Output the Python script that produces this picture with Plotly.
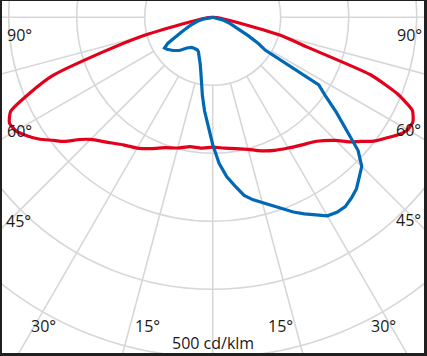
import numpy as np
import plotly.graph_objects as go

# ---- data (cd/klm vs. gamma angle in degrees, 0 = nadir, + = right) ----
red_angle = [-90, -85, -80, -77.5, -75, -72.5, -70, -67.5, -65, -62.5, -60, -57.5, -55,
             -52.5, -50, -47.5, -45, -40, -35, -30, -25, -20, -15, -10, -5, 0,
             5, 10, 15, 20, 25, 30, 35, 40, 45, 47.5, 50, 52.5, 55, 57.5, 60, 62.5,
             65, 67.5, 70, 72.5, 75, 77.5, 80, 85, 90]
red_intensity = [0, 6, 21, 47, 110, 169, 250, 291, 328, 337, 334, 324, 312,
                 297, 284, 266, 254, 240, 229, 222, 213, 204, 199, 193, 193, 191,
                 193, 196, 201, 209, 216, 222, 229, 238, 256, 271, 284, 299, 310, 322, 331, 332,
                 324, 294, 247, 146, 107, 44, 21, 6, 0]

blue_angle = [-90, -85, -80, -75, -70, -65, -62.5, -60, -57.5, -55, -50, -45, -40, -35,
              -30, -25, -22.5, -20, -17.5, -15, -12.5, -10, -7.5, -5, -2.5, 0,
              2.5, 5, 7.5, 10, 12.5, 15, 17.5, 20, 22.5, 25, 27.5, 30, 32.5, 35, 37.5,
              40, 42.5, 45, 47.5, 50, 52.5, 55, 57.5, 58, 60, 62.5, 65, 70, 75, 80, 85, 90]
blue_intensity = [0, 6, 13, 24, 35, 50, 63, 76, 84, 82, 76, 69, 59, 54,
                  53, 53, 55, 59, 63, 71, 81, 97, 116, 138, 159, 187,
                  215, 235, 250, 266, 275, 282, 291, 300, 310, 319, 328, 337, 340, 340, 335,
                  329, 319, 310, 290, 256, 229, 203, 185, 91, 78, 60, 44, 28, 16, 7, 3, 0]

ring_values = [100, 200, 300, 400, 500, 600]
spoke_angles = [-90, -75, -60, -45, -30, -15, 0, 15, 30, 45, 60, 75, 90]
label_texts = ["90°", "60°", "45°", "30°", "15°", "500 cd/klm", "15°", "30°", "45°", "60°", "90°"]

# ---- layout geometry ----
W, H = 427, 356
ML, MR, MT, MB = 2, 3, 1, 3
CX, CY = 212.7, 17.3          # pole position in pixels
S = 0.68                       # pixels per cd/klm

xr = [(ML - CX) / S, (W - MR - CX) / S]
yr = [-(H - MB - CY) / S, (CY - MT) / S]


def to_xy(ang, val):
    a = np.radians(np.asarray(ang, dtype=float))
    v = np.asarray(val, dtype=float)
    return v * np.sin(a), -v * np.cos(a)


def px(x, y):
    return (x - CX) / S, -(y - CY) / S


GRID = "#d7d7d7"
fig = go.Figure()

shapes = []
for r in ring_values:
    shapes.append(dict(type="circle", xref="x", yref="y", x0=-r, x1=r, y0=-r, y1=r,
                       line=dict(color=GRID, width=1.6), layer="below"))
for a in spoke_angles:
    t = np.radians(a)
    r0, r1 = ring_values[0], 800
    shapes.append(dict(type="line", xref="x", yref="y",
                       x0=r0 * np.sin(t), y0=-r0 * np.cos(t),
                       x1=r1 * np.sin(t), y1=-r1 * np.cos(t),
                       line=dict(color=GRID, width=1.6), layer="below"))

rx, ry = to_xy(red_angle, red_intensity)
bx, by = to_xy(blue_angle, blue_intensity)
fig.add_trace(go.Scatter(x=rx, y=ry, mode="lines",
                         line=dict(color="#e2001a", width=3.2, shape="spline", smoothing=0.5),
                         hoverinfo="skip"))
fig.add_trace(go.Scatter(x=bx, y=by, mode="lines", line=dict(color="#0068b4", width=3.2),
                         hoverinfo="skip"))

label_px = [(19, 35), (19, 131), (18.5, 220.5), (43.5, 325.5), (147.5, 325.5), (213, 343),
            (280.5, 325.5), (383.5, 325.5), (408, 219.5), (408.5, 130), (409, 35)]
annotations = []
for txt, (lx, ly) in zip(label_texts, label_px):
    ax, ay = px(lx, ly)
    annotations.append(dict(x=ax, y=ay, xref="x", yref="y", text=txt, showarrow=False,
                            xanchor="center", yanchor="middle",
                            font=dict(family="Open Sans", size=16, color="#1a1a1a")))

fig.update_layout(
    width=W, height=H, autosize=False,
    margin=dict(l=ML, r=MR, t=MT, b=MB, pad=0),
    paper_bgcolor="#202020", plot_bgcolor="white",
    showlegend=False,
    xaxis=dict(range=xr, visible=False, fixedrange=True),
    yaxis=dict(range=yr, visible=False, fixedrange=True),
    shapes=shapes, annotations=annotations,
)
fig.write_html("out.html", config={"displayModeBar": False},
               post_script="document.body.style.margin='0';document.body.style.padding='0';")
